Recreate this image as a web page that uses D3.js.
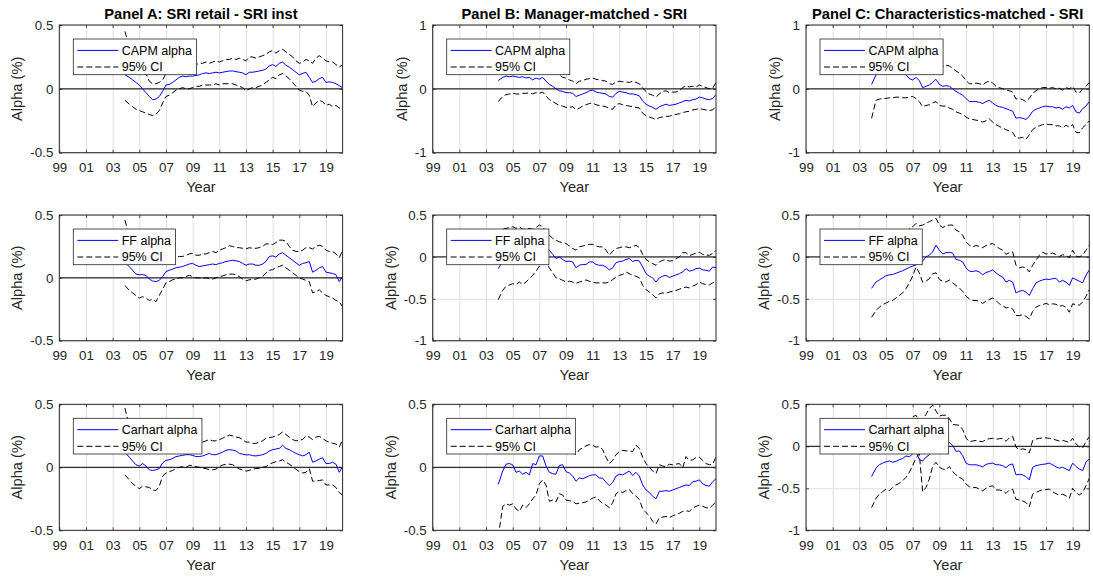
<!DOCTYPE html>
<html>
<head>
<meta charset="utf-8">
<script src="https://cdn.jsdelivr.net/npm/d3@7"></script>
<style>
  body { margin: 0; background: #fff; }
  svg text { font-family: "Liberation Sans", Arial, Helvetica, sans-serif; }
</style>
</head>
<body>
<svg id="chart" width="1093" height="578"></svg>
<script>
// ---- Data: rolling alphas (% per month) and 95% confidence bounds, quarterly ----
const dates = [
  2003.92, 2004.25, 2004.5, 2004.75, 2005, 2005.25, 2005.5, 2005.75,
  2006, 2006.25, 2006.5, 2006.75, 2007, 2007.25, 2007.5, 2007.75,
  2008, 2008.25, 2008.5, 2008.75, 2009, 2009.25, 2009.5, 2009.75,
  2010, 2010.25, 2010.5, 2010.75, 2011, 2011.25, 2011.5, 2011.75,
  2012, 2012.25, 2012.5, 2012.75, 2013, 2013.25, 2013.5, 2013.75,
  2014, 2014.25, 2014.5, 2014.75, 2015, 2015.25, 2015.5, 2015.75,
  2016, 2016.25, 2016.5, 2016.75, 2017, 2017.25, 2017.5, 2017.75,
  2018, 2018.25, 2018.5, 2018.75, 2019, 2019.25, 2019.5, 2019.75,
  2020, 2020.25
];

const xTicks = [1999, 2001, 2003, 2005, 2007, 2009, 2011, 2013, 2015, 2017, 2019];
const xTickLabels = ["99", "01", "03", "05", "07", "09", "11", "13", "15", "17", "19"];
const xLimits = [1999, 2020.25];

const yTicksHalf = [-0.5, 0, 0.5];
const yTicksOne = [-1, 0, 1];
const yTicksMixed = [-1, -0.5, 0, 0.5];

const panelTitles = [
  "Panel A: SRI retail - SRI inst",
  "Panel B: Manager-matched - SRI",
  "Panel C: Characteristics-matched - SRI"
];
const modelNames = ["CAPM alpha", "FF alpha", "Carhart alpha"];
const ciName = "95% CI";
const xTitle = "Year";
const yTitle = "Alpha (%)";

// Panel A: SRI retail - SRI inst
const aCapm = [
  0.11, 0.09, 0.07, 0.05, 0.03, 0.0, -0.03, -0.06,
  -0.085, -0.08, -0.06, -0.02, 0.03, 0.035, 0.05, 0.07,
  0.09, 0.1, 0.095, 0.1, 0.1, 0.105, 0.11, 0.12,
  0.125, 0.12, 0.125, 0.13, 0.125, 0.13, 0.135, 0.14,
  0.14, 0.135, 0.13, 0.125, 0.11, 0.13, 0.13, 0.135,
  0.14, 0.145, 0.155, 0.18, 0.19, 0.175, 0.2, 0.21,
  0.185, 0.17, 0.15, 0.13, 0.11, 0.12, 0.13, 0.09,
  0.05, 0.06, 0.08, 0.09, 0.05, 0.055, 0.05, 0.04,
  0.025, 0.01
];
const aCapmHi = [
  0.45, 0.33, 0.28, 0.25, 0.23, 0.18, 0.12, 0.06,
  0.04, 0.04, 0.05, 0.07, 0.12, 0.12, 0.13, 0.15,
  0.18, 0.19, 0.19, 0.19, 0.19, 0.19, 0.2, 0.2,
  0.21, 0.2, 0.21, 0.22, 0.21, 0.22, 0.23, 0.23,
  0.24, 0.23, 0.24, 0.23, 0.22, 0.25, 0.25, 0.24,
  0.25, 0.26, 0.27, 0.29, 0.3, 0.28, 0.3, 0.31,
  0.29, 0.27, 0.25, 0.22, 0.2, 0.21, 0.23, 0.22,
  0.2, 0.24, 0.26, 0.24, 0.22, 0.21, 0.21, 0.19,
  0.17, 0.19
];
const aCapmLo = [
  -0.09, -0.12, -0.14, -0.16, -0.17, -0.18, -0.19, -0.2,
  -0.21, -0.2, -0.17, -0.11, -0.06, -0.05, -0.03, -0.01,
  0.0, 0.01, 0.0, 0.0, 0.01, 0.02, 0.02, 0.03,
  0.03, 0.03, 0.03, 0.04, 0.03, 0.04, 0.04, 0.04,
  0.04, 0.03, 0.02, 0.01, -0.015, 0.0, 0.01, 0.01,
  0.02, 0.03, 0.05, 0.07, 0.09, 0.08, 0.11, 0.12,
  0.1, 0.08, 0.05, 0.02, -0.01, -0.02, -0.02, -0.05,
  -0.14, -0.11, -0.09, -0.1, -0.13, -0.12, -0.14, -0.13,
  -0.15, -0.17
];
const aFF = [
  0.12, 0.09, 0.06, 0.03, 0.025, 0.025, 0.02, -0.01,
  -0.025, -0.03, -0.02, 0.01, 0.05, 0.06, 0.07, 0.08,
  0.085, 0.09, 0.1, 0.11, 0.115, 0.1, 0.09, 0.095,
  0.1, 0.105, 0.11, 0.105, 0.115, 0.12, 0.13, 0.135,
  0.14, 0.135, 0.13, 0.115, 0.1, 0.11, 0.11, 0.1,
  0.1, 0.11, 0.13, 0.17, 0.175, 0.165, 0.19, 0.2,
  0.18, 0.16, 0.14, 0.12, 0.1, 0.115, 0.12, 0.13,
  0.045, 0.06, 0.08, 0.09, 0.045, 0.04, 0.035, 0.025,
  -0.03, 0.01
];
const aFFHi = [
  0.46, 0.33, 0.26, 0.21, 0.2, 0.19, 0.18, 0.15,
  0.13, 0.12, 0.13, 0.15, 0.17, 0.17, 0.17, 0.17,
  0.17, 0.17, 0.18, 0.19, 0.195, 0.18, 0.18, 0.19,
  0.19, 0.2, 0.21, 0.2, 0.22, 0.23, 0.24, 0.255,
  0.25, 0.24, 0.24, 0.235, 0.23, 0.24, 0.235, 0.235,
  0.24, 0.25, 0.27, 0.27, 0.265, 0.28, 0.3, 0.3,
  0.29, 0.25, 0.22, 0.21, 0.21, 0.22, 0.24, 0.24,
  0.23, 0.25, 0.26, 0.25, 0.22, 0.21, 0.21, 0.19,
  0.16, 0.22
];
const aFFLo = [
  -0.06, -0.1, -0.12, -0.14, -0.16, -0.15, -0.16, -0.18,
  -0.17, -0.19, -0.14, -0.09, -0.04, -0.03, -0.015, -0.01,
  0.0, 0.0, 0.01, 0.02, 0.01, 0.0, 0.0, -0.005,
  0.0, -0.005, -0.01, 0.0, 0.01, 0.015, 0.025, 0.03,
  0.03, 0.025, 0.01, -0.01, -0.025, -0.015, -0.015, -0.01,
  0.0, 0.01, 0.04, 0.06, 0.065, 0.08, 0.09, 0.1,
  0.08, 0.06, 0.04, 0.02, 0.0, -0.01, -0.02, -0.03,
  -0.12, -0.11, -0.095, -0.12, -0.14, -0.15, -0.16, -0.18,
  -0.19, -0.23
];
const aCarhart = [
  0.12, 0.08, 0.05, 0.02, 0.01, 0.03, 0.01, -0.02,
  -0.025, -0.02, -0.01, 0.035, 0.055, 0.06, 0.07, 0.085,
  0.09, 0.095, 0.1, 0.1, 0.095, 0.085, 0.085, 0.09,
  0.1, 0.11, 0.1, 0.1, 0.11, 0.12, 0.135, 0.14,
  0.137, 0.13, 0.11, 0.105, 0.098, 0.1, 0.093, 0.09,
  0.095, 0.1, 0.11, 0.13, 0.14, 0.145, 0.15, 0.175,
  0.15, 0.14, 0.125, 0.11, 0.1, 0.09, 0.1, 0.12,
  0.04, 0.05, 0.065, 0.075, 0.03, 0.03, 0.04, 0.025,
  -0.04, 0.005
];
const aCarhartHi = [
  0.47, 0.33, 0.26, 0.22, 0.19, 0.2, 0.18, 0.15,
  0.14, 0.14, 0.14, 0.17, 0.18, 0.18, 0.19, 0.2,
  0.2, 0.2, 0.21, 0.21, 0.2, 0.19, 0.19, 0.2,
  0.21, 0.22, 0.21, 0.21, 0.22, 0.23, 0.245, 0.255,
  0.25, 0.24, 0.235, 0.22, 0.2, 0.2, 0.19, 0.19,
  0.2, 0.21, 0.23, 0.235, 0.24, 0.25, 0.26, 0.28,
  0.26, 0.24, 0.22, 0.21, 0.215, 0.22, 0.25, 0.24,
  0.22, 0.24, 0.245, 0.23, 0.21, 0.2, 0.19, 0.185,
  0.16, 0.22
];
const aCarhartLo = [
  -0.06, -0.1, -0.13, -0.15, -0.17, -0.15, -0.155, -0.16,
  -0.18, -0.185, -0.15, -0.07, -0.045, -0.035, -0.025, -0.01,
  0.0, 0.005, 0.0, 0.015, 0.015, 0.005, 0.0, -0.008,
  -0.01, -0.02, -0.02, -0.015, 0.005, 0.018, 0.024, 0.025,
  0.02, 0.005, -0.013, -0.02, -0.03, -0.025, -0.015, -0.01,
  -0.01, 0.0, 0.005, 0.025, 0.035, 0.045, 0.05, 0.06,
  0.04, 0.025, 0.005, -0.015, -0.034, -0.045, -0.04, -0.01,
  -0.11, -0.11, -0.105, -0.1, -0.14, -0.14, -0.14, -0.16,
  -0.2, -0.22
];

// Panel B: Manager-matched - SRI
const bCapm = [
  0.13, 0.18, 0.2, 0.19, 0.2, 0.19, 0.18, 0.19,
  0.17, 0.18, 0.14, 0.17, 0.15, 0.18, 0.12, 0.07,
  0.04, 0.0, -0.03, -0.04, -0.06, -0.06, -0.07, -0.12,
  -0.1, -0.08, -0.06, -0.03, -0.02, -0.05, -0.06, -0.07,
  -0.08, -0.12, -0.13, -0.07, -0.04, -0.05, -0.06, -0.08,
  -0.08, -0.09, -0.11, -0.19, -0.24, -0.27, -0.29, -0.32,
  -0.28, -0.26, -0.24, -0.26, -0.25, -0.24, -0.22, -0.2,
  -0.18, -0.19, -0.17, -0.16, -0.13, -0.14, -0.16, -0.17,
  -0.15, -0.09
];
const bCapmHi = [
  0.45, 0.48, 0.5, 0.49, 0.5, 0.49, 0.48, 0.49,
  0.47, 0.48, 0.44, 0.47, 0.45, 0.47, 0.41, 0.35,
  0.31, 0.27, 0.22, 0.18, 0.17, 0.14, 0.12, 0.08,
  0.12, 0.13, 0.15, 0.16, 0.17, 0.15, 0.14, 0.13,
  0.12, 0.08, 0.07, 0.11, 0.12, 0.11, 0.11, 0.1,
  0.12, 0.1, 0.08, 0.01, -0.04, -0.08, -0.1, -0.13,
  -0.08, -0.04, -0.03, -0.06, -0.05, -0.05, -0.03, 0.02,
  0.05, 0.03, 0.04, 0.03, 0.06, 0.04, 0.02, 0.0,
  0.01, 0.1
];
const bCapmLo = [
  -0.2, -0.12, -0.09, -0.08, -0.07, -0.08, -0.08, -0.07,
  -0.07, -0.06, -0.08, -0.06, -0.07, -0.05, -0.11, -0.17,
  -0.2, -0.23, -0.26, -0.27, -0.29, -0.29, -0.28, -0.33,
  -0.3, -0.27, -0.25, -0.23, -0.22, -0.25, -0.26, -0.27,
  -0.28, -0.31, -0.32, -0.25, -0.23, -0.25, -0.26, -0.27,
  -0.28, -0.29, -0.3, -0.38, -0.42, -0.44, -0.46, -0.48,
  -0.45, -0.44, -0.43, -0.43, -0.41, -0.4, -0.39, -0.37,
  -0.36, -0.35, -0.33, -0.32, -0.31, -0.32, -0.33, -0.34,
  -0.33, -0.27
];
const bFF = [
  -0.14, -0.05, 0.0, 0.01, 0.02, 0.0, 0.02, 0.0,
  0.02, 0.05, 0.06, 0.09, 0.12, 0.14, 0.12, 0.08,
  0.03, -0.02, 0.0, -0.03, -0.055, -0.05, -0.06, -0.13,
  -0.1, -0.09, -0.09, -0.06, -0.06, -0.09, -0.1, -0.1,
  -0.12, -0.155, -0.13, -0.07, -0.055, -0.05, -0.03, -0.02,
  -0.055, -0.04, -0.05, -0.12, -0.2, -0.23, -0.25, -0.3,
  -0.25, -0.23, -0.22, -0.245, -0.23, -0.215, -0.2, -0.18,
  -0.14, -0.17, -0.16, -0.14, -0.135, -0.155, -0.16, -0.17,
  -0.12, -0.13
];
const bFFHi = [
  0.24, 0.33, 0.34, 0.35, 0.36, 0.34, 0.36, 0.33,
  0.33, 0.34, 0.33, 0.35, 0.38, 0.36, 0.3, 0.26,
  0.22, 0.2, 0.18, 0.17, 0.16, 0.13, 0.1, 0.08,
  0.12, 0.13, 0.14, 0.15, 0.15, 0.13, 0.12, 0.12,
  0.08, 0.02, 0.07, 0.1, 0.11, 0.12, 0.12, 0.11,
  0.12, 0.14, 0.11, 0.03, -0.03, -0.06, -0.08, -0.1,
  -0.06, -0.04, -0.035, -0.05, -0.045, -0.02, 0.0, 0.05,
  0.05, 0.015, 0.03, 0.045, 0.055, 0.03, 0.02, 0.02,
  0.04, 0.08
];
const bFFLo = [
  -0.51, -0.4, -0.35, -0.335, -0.32, -0.33, -0.3, -0.33,
  -0.3, -0.26, -0.22, -0.17, -0.11, -0.09, -0.06, -0.13,
  -0.19, -0.25, -0.26, -0.28, -0.3, -0.29, -0.3, -0.315,
  -0.3, -0.29, -0.275, -0.29, -0.3, -0.31, -0.31, -0.31,
  -0.31, -0.3, -0.27, -0.24, -0.22, -0.21, -0.18, -0.2,
  -0.22, -0.23, -0.25, -0.34, -0.39, -0.42, -0.45, -0.49,
  -0.44, -0.43, -0.435, -0.42, -0.41, -0.4, -0.385, -0.37,
  -0.36, -0.37, -0.35, -0.33, -0.3, -0.32, -0.33, -0.335,
  -0.31, -0.3
];
const bCarhart = [
  -0.135, -0.03, 0.025, 0.03, 0.02, -0.04, -0.03, -0.055,
  -0.04, -0.06, 0.03, 0.02, 0.09, 0.09, 0.01, -0.04,
  -0.05, -0.055, 0.015, 0.02, -0.035, -0.045, -0.07, -0.11,
  -0.085, -0.09, -0.08, -0.066, -0.06, -0.06, -0.085, -0.087,
  -0.12, -0.145, -0.12, -0.07, -0.055, -0.06, -0.045, -0.03,
  -0.065, -0.04, -0.07, -0.14, -0.18, -0.2, -0.23, -0.25,
  -0.19, -0.19, -0.185, -0.19, -0.18, -0.17, -0.16, -0.15,
  -0.14, -0.145, -0.115, -0.11, -0.1, -0.13, -0.145, -0.15,
  -0.115, -0.09
];
const bCarhartHi = [
  0.22, 0.3, 0.35, 0.35, 0.34, 0.28, 0.29, 0.27,
  0.26, 0.22, 0.27, 0.24, 0.3, 0.29, 0.21, 0.16,
  0.14, 0.13, 0.2, 0.2, 0.15, 0.14, 0.12, 0.1,
  0.14, 0.155, 0.17, 0.18, 0.175, 0.16, 0.165, 0.14,
  0.08, 0.03, 0.055, 0.1, 0.125, 0.135, 0.13, 0.13,
  0.125, 0.175, 0.15, 0.08, 0.03, 0.0, -0.03, -0.05,
  0.02, 0.01, 0.005, 0.024, 0.02, 0.025, 0.03, -0.005,
  0.085, 0.055, 0.06, 0.077, 0.08, 0.055, 0.03, 0.02,
  0.024, 0.085
];
const bCarhartLo = [
  -0.55, -0.31, -0.29, -0.3, -0.29, -0.33, -0.35, -0.3,
  -0.32, -0.29, -0.25, -0.22, -0.13, -0.1, -0.14, -0.27,
  -0.26, -0.275, -0.21, -0.22, -0.26, -0.265, -0.27, -0.29,
  -0.285, -0.28, -0.275, -0.26, -0.245, -0.235, -0.265, -0.285,
  -0.3, -0.32, -0.28, -0.21, -0.19, -0.2, -0.185, -0.175,
  -0.21, -0.23, -0.255, -0.33, -0.36, -0.385, -0.43, -0.45,
  -0.4, -0.395, -0.39, -0.4, -0.385, -0.375, -0.365, -0.35,
  -0.345, -0.35, -0.325, -0.31, -0.3, -0.31, -0.32, -0.325,
  -0.3, -0.275
];

// Panel C: Characteristics-matched - SRI
const cCapm = [
  0.07, 0.22, 0.24, 0.25, 0.25, 0.26, 0.25, 0.26,
  0.25, 0.24, 0.22, 0.16, 0.14, 0.18, 0.13, 0.02,
  0.04, 0.06, 0.1, 0.15, 0.07, 0.04, 0.05, 0.04,
  0.0, -0.04, -0.07, -0.1, -0.15, -0.2, -0.2, -0.2,
  -0.21, -0.23, -0.2, -0.18, -0.22, -0.26, -0.28, -0.29,
  -0.31, -0.33, -0.35, -0.46, -0.45, -0.46, -0.48, -0.43,
  -0.35, -0.32, -0.3, -0.28, -0.27, -0.28, -0.28, -0.3,
  -0.29, -0.32, -0.28, -0.3, -0.26, -0.36, -0.38, -0.31,
  -0.27, -0.2
];
const cCapmHi = [
  0.4, 0.55, 0.58, 0.6, 0.6, 0.62, 0.6, 0.62,
  0.6, 0.58, 0.55, 0.48, 0.45, 0.5, 0.45, 0.33,
  0.34, 0.36, 0.4, 0.45, 0.38, 0.35, 0.37, 0.36,
  0.32, 0.28, 0.25, 0.2, 0.13, 0.08, 0.08, 0.09,
  0.08, 0.06, 0.1, 0.12, 0.09, 0.04, 0.02, 0.0,
  -0.02, -0.03, -0.05, -0.16, -0.15, -0.17, -0.2, -0.15,
  -0.07, -0.03, 0.0, 0.02, 0.02, 0.01, 0.02, 0.0,
  0.01, -0.02, 0.02, 0.0, 0.04, -0.05, -0.07, 0.0,
  0.04, 0.1
];
const cCapmLo = [
  -0.46, -0.18, -0.16, -0.15, -0.15, -0.14, -0.14, -0.13,
  -0.13, -0.14, -0.14, -0.13, -0.12, -0.15, -0.2, -0.28,
  -0.26, -0.25, -0.22, -0.2, -0.26, -0.27, -0.27, -0.3,
  -0.32, -0.36, -0.38, -0.4, -0.44, -0.47, -0.48, -0.49,
  -0.5, -0.52, -0.5, -0.47, -0.52, -0.56, -0.59, -0.61,
  -0.64, -0.66, -0.68, -0.77, -0.77, -0.76, -0.79, -0.72,
  -0.64, -0.6, -0.58, -0.56, -0.55, -0.56, -0.56, -0.58,
  -0.58, -0.61, -0.57, -0.6, -0.56, -0.68, -0.69, -0.61,
  -0.56, -0.5
];
const cFF = [
  -0.375, -0.3, -0.275, -0.25, -0.225, -0.215, -0.21, -0.195,
  -0.18, -0.165, -0.145, -0.125, -0.11, -0.095, -0.08, -0.05,
  0.0, 0.02, 0.06, 0.14, 0.08, 0.035, 0.05, 0.055,
  0.045, -0.03, -0.04, -0.06, -0.13, -0.17, -0.175, -0.165,
  -0.18, -0.215, -0.185, -0.175, -0.155, -0.19, -0.22, -0.24,
  -0.3, -0.28, -0.3, -0.43, -0.41, -0.4, -0.42, -0.46,
  -0.38, -0.31, -0.29, -0.275, -0.265, -0.27, -0.26, -0.255,
  -0.3, -0.28, -0.3, -0.34, -0.25, -0.27, -0.29, -0.31,
  -0.22, -0.155
];
const cFFHi = [
  -0.03, 0.03, 0.06, 0.08, 0.1, 0.11, 0.12, 0.14,
  0.17, 0.2, 0.26, 0.34, 0.36, 0.4, 0.37, 0.38,
  0.4, 0.42, 0.44, 0.46, 0.38, 0.35, 0.37, 0.38,
  0.38, 0.32, 0.3, 0.26, 0.18, 0.14, 0.12, 0.135,
  0.125, 0.11, 0.135, 0.15, 0.16, 0.13, 0.1, 0.08,
  0.03, 0.05, 0.06, -0.1, -0.13, -0.12, -0.13, -0.18,
  -0.1, -0.04, 0.02, 0.055, 0.035, 0.04, 0.045, 0.03,
  0.005, 0.025, 0.02, -0.01, 0.08, 0.01, 0.0, 0.02,
  0.08, 0.14
];
const cFFLo = [
  -0.72, -0.64, -0.6, -0.57, -0.55, -0.53, -0.52, -0.49,
  -0.46, -0.43, -0.38, -0.31, -0.23, -0.12, -0.19, -0.3,
  -0.29, -0.26, -0.2, -0.19, -0.27, -0.29, -0.3, -0.275,
  -0.31, -0.34, -0.37, -0.41, -0.47, -0.5, -0.52, -0.52,
  -0.53, -0.555, -0.53, -0.51, -0.49, -0.52, -0.56, -0.58,
  -0.61, -0.6, -0.62, -0.7, -0.7, -0.69, -0.71, -0.74,
  -0.65, -0.6, -0.58, -0.57, -0.555, -0.57, -0.56, -0.565,
  -0.59, -0.58, -0.6, -0.66, -0.56, -0.57, -0.575, -0.54,
  -0.47, -0.39
];
const cCarhart = [
  -0.36, -0.26, -0.22, -0.2, -0.185, -0.175, -0.19, -0.18,
  -0.16, -0.145, -0.115, -0.125, -0.09, -0.065, -0.16, -0.175,
  -0.13, -0.1, -0.04, 0.02, 0.0, -0.01, 0.0, 0.045,
  0.01, -0.06, -0.055, -0.11, -0.2, -0.22, -0.22, -0.22,
  -0.23, -0.245, -0.215, -0.205, -0.2, -0.22, -0.22, -0.23,
  -0.255, -0.22, -0.21, -0.34, -0.335, -0.34, -0.36, -0.4,
  -0.25, -0.23, -0.222, -0.215, -0.21, -0.2, -0.22, -0.245,
  -0.26, -0.25, -0.27, -0.29, -0.2, -0.24, -0.27, -0.29,
  -0.19, -0.15
];
const cCarhartHi = [
  0.0, 0.08, 0.12, 0.14, 0.15, 0.16, 0.15, 0.16,
  0.18, 0.2, 0.25, 0.3, 0.35, 0.37, 0.3, 0.32,
  0.38, 0.45, 0.49, 0.42, 0.36, 0.37, 0.37, 0.33,
  0.26, 0.255, 0.25, 0.2, 0.1, 0.055, 0.063, 0.07,
  0.06, 0.056, 0.08, 0.09, 0.095, 0.085, 0.09, 0.095,
  0.06, 0.1, 0.12, -0.01, -0.04, -0.03, -0.04, -0.08,
  0.07, 0.085, 0.095, 0.1, 0.1, 0.095, 0.085, 0.075,
  0.063, 0.07, 0.06, 0.045, 0.095, 0.03, -0.01, -0.02,
  0.056, 0.115
];
const cCarhartLo = [
  -0.73, -0.62, -0.57, -0.54, -0.51, -0.53, -0.49, -0.46,
  -0.44, -0.41, -0.37, -0.31, -0.23, -0.14, -0.09, -0.54,
  -0.49, -0.39, -0.24, -0.19, -0.25, -0.27, -0.28, -0.24,
  -0.3, -0.34, -0.37, -0.39, -0.45, -0.48, -0.49, -0.49,
  -0.51, -0.53, -0.5, -0.48, -0.47, -0.52, -0.52, -0.53,
  -0.56, -0.52, -0.51, -0.63, -0.64, -0.65, -0.67, -0.72,
  -0.57, -0.55, -0.53, -0.52, -0.515, -0.51, -0.54, -0.565,
  -0.58, -0.57, -0.59, -0.62, -0.5, -0.55, -0.58, -0.55,
  -0.47, -0.38
];

// Grid of panels: rows = model (CAPM, FF, Carhart), columns = comparison
const panelSeries = [
  [[aCapm, aCapmLo, aCapmHi], [bCapm, bCapmLo, bCapmHi], [cCapm, cCapmLo, cCapmHi]],
  [[aFF, aFFLo, aFFHi], [bFF, bFFLo, bFFHi], [cFF, cFFLo, cFFHi]],
  [[aCarhart, aCarhartLo, aCarhartHi], [bCarhart, bCarhartLo, bCarhartHi], [cCarhart, cCarhartLo, cCarhartHi]]
];
const yLimits = [
  [[-0.5, 0.5], [-1, 1], [-1, 1]],
  [[-0.5, 0.5], [-1, 0.5], [-1, 0.5]],
  [[-0.5, 0.5], [-0.5, 0.5], [-1, 0.5]]
];
const yTickSets = [
  [yTicksHalf, yTicksOne, yTicksOne],
  [yTicksHalf, yTicksMixed, yTicksMixed],
  [yTicksHalf, yTicksHalf, yTicksMixed]
];

// ---- Layout ----
const colLeft = [59.3, 432.7, 806];
const rowTop = [25, 215, 404.3];
const rowHeight = [127.7, 125.7, 126];
const plotW = 283.3;

const axisColor = "#262626";
const gridColor = "#dfdfdf";
const tickFont = 13.33;
const labelFont = 14.67;
const legendFont = 12.5;

const svg = d3.select("#chart");

function styleAxis(g) {
  g.attr("font-family", null).attr("font-size", null);
  g.selectAll(".domain").remove();
  g.selectAll(".tick line").attr("stroke", axisColor).attr("stroke-width", 0.8);
  g.selectAll(".tick text")
    .attr("fill", axisColor)
    .style("font-size", tickFont + "px")
    .style("font-family", '"Liberation Sans", Arial, Helvetica, sans-serif');
}

for (let r = 0; r < 3; r++) {
  for (let c = 0; c < 3; c++) {
    const L = colLeft[c], T = rowTop[r], H = rowHeight[r], W = plotW;
    const x = d3.scaleLinear().domain(xLimits).range([L, L + W]);
    const y = d3.scaleLinear().domain(yLimits[r][c]).range([T + H, T]);
    const yt = yTickSets[r][c];
    const [alpha, lo, hi] = panelSeries[r][c];

    const g = svg.append("g");
    const clipId = `clip-${r}-${c}`;
    g.append("clipPath").attr("id", clipId)
      .append("rect").attr("x", L).attr("y", T).attr("width", W).attr("height", H);

    // grid lines
    g.append("g")
      .attr("transform", `translate(0,${T + H})`)
      .call(d3.axisBottom(x).tickValues(xTicks).tickSize(-H).tickFormat(""))
      .call(a => {
        a.select(".domain").remove();
        a.selectAll(".tick line").attr("stroke", gridColor).attr("stroke-width", 1);
      });
    g.append("g")
      .attr("transform", `translate(${L},0)`)
      .call(d3.axisLeft(y).tickValues(yt).tickSize(-W).tickFormat(""))
      .call(a => {
        a.select(".domain").remove();
        a.selectAll(".tick line").attr("stroke", gridColor).attr("stroke-width", 1);
      });

    // zero reference line
    g.append("line")
      .attr("x1", L).attr("x2", L + W)
      .attr("y1", y(0)).attr("y2", y(0))
      .attr("stroke", "#000").attr("stroke-width", 1);

    // series
    const line = d3.line()
      .x((d, i) => x(dates[i]))
      .y(d => y(d));
    const plot = g.append("g").attr("clip-path", `url(#${clipId})`);
    [lo, hi].forEach(s => {
      plot.append("path").datum(s)
        .attr("d", line)
        .attr("fill", "none")
        .attr("stroke", "#000")
        .attr("stroke-width", 1)
        .attr("stroke-dasharray", "6,3");
    });
    plot.append("path").datum(alpha)
      .attr("d", line)
      .attr("fill", "none")
      .attr("stroke", "#0000ff")
      .attr("stroke-width", 1);

    // axes with inward ticks on all four sides
    g.append("g").attr("transform", `translate(0,${T + H})`)
      .call(d3.axisBottom(x).tickValues(xTicks)
        .tickFormat((d, i) => xTickLabels[i])
        .tickSizeInner(-3).tickSizeOuter(0).tickPadding(10))
      .call(styleAxis);
    g.append("g").attr("transform", `translate(0,${T})`)
      .call(d3.axisTop(x).tickValues(xTicks).tickFormat("")
        .tickSizeInner(-3).tickSizeOuter(0))
      .call(styleAxis);
    const yAxisG = g.append("g").attr("transform", `translate(${L},0)`)
      .call(d3.axisLeft(y).tickValues(yt).tickFormat(d => String(d))
        .tickSizeInner(-3).tickSizeOuter(0).tickPadding(6))
      .call(styleAxis);
    g.append("g").attr("transform", `translate(${L + W},0)`)
      .call(d3.axisRight(y).tickValues(yt).tickFormat("")
        .tickSizeInner(-3).tickSizeOuter(0))
      .call(styleAxis);

    // axes box
    g.append("rect")
      .attr("x", L).attr("y", T).attr("width", W).attr("height", H)
      .attr("fill", "none").attr("stroke", axisColor).attr("stroke-width", 1);

    // axis labels
    let maxTickW = 0;
    yAxisG.selectAll(".tick text").each(function () {
      maxTickW = Math.max(maxTickW, this.getComputedTextLength());
    });
    const ylx = L - 6 - maxTickW - 8;
    g.append("text")
      .attr("transform", `translate(${ylx},${T + H / 2}) rotate(-90)`)
      .attr("text-anchor", "middle")
      .attr("fill", axisColor)
      .style("font-size", labelFont + "px")
      .text(yTitle);
    g.append("text")
      .attr("x", L + W / 2).attr("y", T + H + 39.5)
      .attr("text-anchor", "middle")
      .attr("fill", axisColor)
      .style("font-size", labelFont + "px")
      .text(xTitle);

    if (r === 0) {
      g.append("text")
        .attr("x", L + W / 2).attr("y", T - 5.7)
        .attr("text-anchor", "middle")
        .attr("fill", "#000")
        .style("font-size", labelFont + "px")
        .style("font-weight", "bold")
        .text(panelTitles[c]);
    }

    // legend
    const lg = g.append("g").attr("transform", `translate(${L + 14},${T + 14})`);
    const box = lg.append("rect")
      .attr("fill", "#fff").attr("stroke", axisColor).attr("stroke-width", 0.8);
    const entries = [
      { label: modelNames[r], color: "#0000ff", dash: null },
      { label: ciName, color: "#000", dash: "6,3" }
    ];
    let maxTextW = 0;
    entries.forEach((e, i) => {
      const cy = 11.4 + i * 16.6;
      lg.append("line")
        .attr("x1", 4).attr("x2", 45).attr("y1", cy).attr("y2", cy)
        .attr("stroke", e.color).attr("stroke-width", 1)
        .attr("stroke-dasharray", e.dash);
      const t = lg.append("text")
        .attr("x", 48.4).attr("y", cy).attr("dy", "0.35em")
        .attr("fill", "#000")
        .style("font-size", legendFont + "px")
        .text(e.label);
      maxTextW = Math.max(maxTextW, t.node().getComputedTextLength());
    });
    box.attr("x", 0).attr("y", 0).attr("width", 48.4 + maxTextW + 4.5).attr("height", 35.7);
  }
}
</script>
</body>
</html>
